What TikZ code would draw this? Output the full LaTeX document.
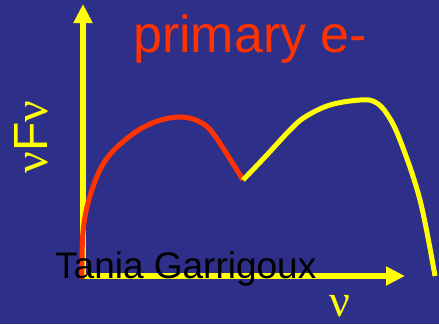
\documentclass[tikz,border=0pt]{standalone}
\usepackage{fontspec}
\setmainfont{Liberation Sans}
\newfontfamily\greekserif{Liberation Serif}
\usepackage{tikz}
\usetikzlibrary{arrows.meta}

\definecolor{slidebg}{RGB}{46,47,136}
\definecolor{primred}{RGB}{255,51,0}
\definecolor{axisyellow}{RGB}{255,255,0}

\begin{document}
\begin{tikzpicture}[x=1pt, y=-1pt,
    axis/.style={axisyellow, line width=6pt, -{Triangle[length=19pt,width=18pt]}},
    spectrum/.style={line width=5pt, line join=round}]
  %% Background
  \fill[slidebg] (0,0) rectangle (439,324);
  \useasboundingbox (0,0) rectangle (439,324);

  %% Axes
  \draw[axis] (83,279) -- (83,4);
  \draw[axis] (80,276) -- (405,276);

  %% Axis labels
  \node[axisyellow, rotate=90, anchor=base, inner sep=0pt] (ylabel) at (47,137)
    {\fontsize{48}{50}\selectfont{\greekserif ν}F{\greekserif ν}};
  \node[axisyellow, anchor=base, inner sep=0pt] (xlabel) at (340,316)
    {\fontsize{46}{48}\selectfont\greekserif ν};

  %% Primary electron spectrum
  \draw[spectrum, primred] plot[smooth, tension=0.6] coordinates {
    (82,279) (83,232) (90,196) (105,161) (130,136) (155,122) (180,117)
    (200,122) (215,136) (243,180)};

  %% Secondary part
  \draw[spectrum, axisyellow] plot[smooth, tension=0.6] coordinates {
    (243,180) (265,157) (290,130) (305,117) (330,105) (360,100) (375,102)
    (387,114) (400,140) (420,200) (435,276)};

  %% Title and credit
  \node[primred, anchor=base west, inner sep=0pt] (title) at (133,52)
    {\fontsize{52}{56}\selectfont primary e-};
  \node[black, anchor=base west, inner sep=0pt] (credit) at (55,278)
    {\fontsize{37}{40}\selectfont Tania Garrigoux};
\end{tikzpicture}
\end{document}
